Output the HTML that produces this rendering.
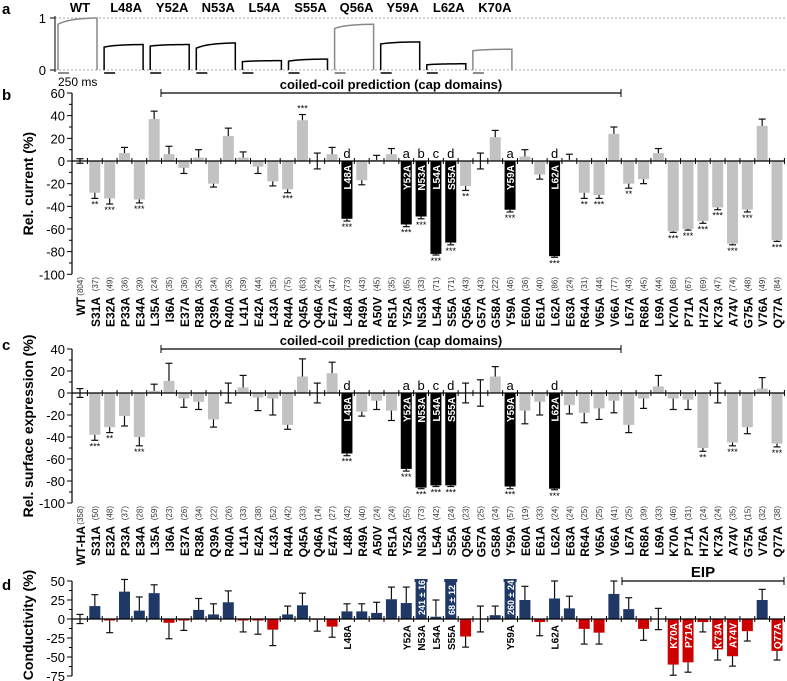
<!DOCTYPE html>
<html><head><meta charset="utf-8">
<style>
html,body{margin:0;padding:0;background:#fff;}
svg{display:block;font-family:"Liberation Sans",Arial,sans-serif;}
</style></head>
<body>
<svg id="fig" width="787" height="681" viewBox="0 0 787 681" xmlns="http://www.w3.org/2000/svg">
<g id="root"></g>
</svg>
<script>
// ---------- DATA ----------
const namesB = ["WT","S31A","E32A","P33A","E34A","L35A","I36A","E37A","R38A","Q39A","R40A","L41A","E42A","L43A","R44A","Q45A","Q46A","E47A","L48A","R49A","A50V","R51A","Y52A","N53A","L54A","S55A","Q56A","G57A","G58A","Y59A","E60A","E61A","L62A","E63A","R64A","V65A","V66A","L67A","R68A","L69A","K70A","P71A","H72A","K73A","A74V","G75A","V76A","Q77A"];
const namesC = ["WT-HA"].concat(namesB.slice(1));
const countsB = [804,37,49,36,39,24,35,36,35,34,35,39,44,35,75,63,24,47,73,43,45,35,65,33,71,71,43,43,22,46,36,40,86,24,31,44,77,43,45,44,68,67,69,47,74,48,49,84];
const countsC = [358,50,48,37,28,59,23,26,34,22,26,33,38,52,42,33,14,27,42,40,24,24,55,73,42,24,23,25,24,57,19,33,24,24,25,25,41,25,39,33,46,31,24,24,35,15,32,38];
const currentVals = [0,-28,-33,7,-34,37,6,-6,3,-20,22,3,-5,-18,-25,36,0,6,-51,-17,1,6,-56,-49,-82,-72,-22,0,21,-43,4,-12,-84,1,-28,-30,24,-20,-16,7,-62,-60,-53,-41,-73,-43,31,-70];
const currentErrs = [2,5,5,5,3,7,7,5,7,3,7,5,6,4,3,5,7,6,2,4,4,5,2,2,1,2,4,7,6,2,6,4,1,5,5,3,6,4,4,4,1,1,2,2,1,2,6,1];
const currentSig = ["","**","***","","***","","","","","","","","","","***","***","","","***","","","","***","***","***","***","**","","","***","","","***","","**","***","","**","","","***","***","***","***","***","***","","***"];
const surfaceVals = [0,-38,-31,-21,-40,2,11,-5,-8,-24,0,5,-4,-5,-29,15,0,18,-55,-17,-7,-16,-69,-86,-84,-84,0,0,15,-85,-16,-8,-87,-11,-18,-14,-7,-29,-5,6,-5,-6,-50,0,-45,-31,4,-46];
const surfaceErrs = [4,5,5,9,8,6,16,8,7,7,9,11,12,15,4,16,9,10,2,4,8,9,2,1,1,1,9,12,9,2,12,12,1,8,9,10,11,7,9,10,10,9,3,9,3,6,10,3];
const surfaceSig = ["","***","**","","***","","","","","","","","","","","","","","***","","","","***","***","***","***","","","","***","","","***","","","","","","","","","","**","","***","","","***"];
const condVals = [0,17,-2,36,11,34,-5,-2,12,6,22,-2,-2,-14,6,18,-1,-10,10,10,8,26,21,241,3,68,-23,0,5,260,25,-4,27,14,-13,-18,33,13,-13,0,-60,-57,-4,-40,-49,-16,25,-42];
const condErrs = [6,15,16,16,18,11,21,13,15,14,15,15,18,21,11,16,15,14,10,10,14,16,21,16,22,12,14,17,12,24,18,18,23,16,20,15,17,15,15,14,14,13,13,14,13,13,14,12];
const condBig = ["","","","","","","","","","","","","","","","","","","","","","","","241 ± 16","","68 ± 12","","","","260 ± 24","","","","","","","","","","","","","","","","","",""];
const mutants = ["L48A","Y52A","N53A","L54A","S55A","Y59A","L62A"];
const mutantLetters = {"L48A":"d","Y52A":"a","N53A":"b","L54A":"c","S55A":"d","Y59A":"a","L62A":"d"};
const redLabelled = ["K70A","P71A","K73A","A74V","Q77A"];
// panel a traces
const traceNames = ["WT","L48A","Y52A","N53A","L54A","S55A","Q56A","Y59A","L62A","K70A"];
const traceStart = [0.88,0.44,0.46,0.42,0.16,0.17,0.80,0.50,0.10,0.37];
const traceEnd = [1.0,0.49,0.49,0.52,0.18,0.21,0.88,0.54,0.12,0.40];
const traceGray = [true,false,false,false,false,false,true,false,false,true];

// ---------- HELPERS ----------
const NS="http://www.w3.org/2000/svg";
const root=document.getElementById('root');
function mk(tag,attrs,parent,txt){const e=document.createElementNS(NS,tag);for(const k in attrs)e.setAttribute(k,attrs[k]);if(txt!==undefined)e.textContent=txt;(parent||root).appendChild(e);return e;}
const X=i=>80+i*14.83;
const BW=11;

// ---------- PANEL A ----------
const ga=mk('g',{});


const t=mk('text',{x:2,y:14,'font-size':15,'font-weight':'bold'},ga,'a');


const ya1=18, ya0=70;
const YA=v=>ya0-(ya0-ya1)*v;
[1,0].forEach(v=>{
  const l=mk('line',{x1:55,x2:787,y1:YA(v),y2:YA(v),stroke:'#aaa','stroke-dasharray':'2,2','stroke-width':1},ga);
  
  
  const tk=mk('line',{x1:50,x2:55,y1:YA(v),y2:YA(v),stroke:'#000'},ga);
  
  
  const tl=mk('text',{x:46,y:YA(v)+5,'font-size':13,'text-anchor':'end'},ga,String(v));
  
  
});
const axA=mk('line',{x1:55,x2:55,y1:ya1-2,y2:ya0+2,stroke:'#000'},ga);


traceNames.forEach((n,i)=>{
  const cx=80+i*46.1;
  const title=mk('text',{x:cx,y:12,'font-size':13,'font-weight':'bold','text-anchor':'middle'},ga,n);
  
  
  const x0=cx-22,x1=cx+17;
  let d=`M${x0},${YA(0)} L${x0},${YA(traceStart[i])}`;
  for(let k=1;k<=20;k++){const f=k/20;const v=traceStart[i]+(traceEnd[i]-traceStart[i])*(1-Math.exp(-3*f))/(1-Math.exp(-3));d+=` L${x0+(x1-x0)*f},${YA(v)}`;}
  d+=` L${x1},${YA(0)}`;
  const p=mk('path',{d:d,fill:'none',stroke:traceGray[i]?'#888':'#000','stroke-width':1.5},ga);
  
  
  const sb=mk('line',{x1:x0,x2:x0+11,y1:73,y2:73,stroke:traceGray[i]?'#666':'#000','stroke-width':1.5},ga);
  
  
});
const ms=mk('text',{x:58,y:86,'font-size':12},ga,'250 ms');



// ---------- BAR PANELS ----------
function panel(cfg){
  const g=mk('g',{});
  
  
  const Y=v=>cfg.y0-v*cfg.k;
  const L=mk('text',{x:2,y:cfg.letterY,'font-size':15,'font-weight':'bold'},g,cfg.letter);
  
  
  const ya=mk('line',{x1:72,x2:72,y1:Y(cfg.max),y2:Y(cfg.min),stroke:'#000','stroke-width':1.2},g);
  
  
  for(let v=cfg.min;v<=cfg.max;v+=cfg.minor){
    const major=((v-cfg.min)%cfg.major)===0;
    const tk=mk('line',{x1:major?67:69,x2:72,y1:Y(v),y2:Y(v),stroke:'#000'},g);
    
    
    if(major){
      const tl=mk('text',{x:65,y:Y(v)+5,'font-size':13,'text-anchor':'end'},g,String(v));
      
      
    }
  }
  const mid=cfg.titleMid!==undefined?cfg.titleMid:(Y(cfg.max)+Y(cfg.min))/2;
  const yt=mk('text',{x:33,y:mid,'font-size':14,'font-weight':'bold','text-anchor':'middle',transform:`rotate(-90 33 ${mid})`},g,cfg.ytitle);
  
  
  cfg.vals.forEach((v,i)=>{
    const n=cfg.names[i];
    const cx=X(i);
    const isMut=cfg.mutHighlight && mutants.includes(n);
    let color=cfg.colorFn(v,n);
    let vv=v;
    const big=cfg.big&&cfg.big[i];
    if(big) vv=cfg.max;
    const y1=Y(Math.max(vv,0)),y2=Y(Math.min(vv,0));
    const b=mk('rect',{x:cx-BW/2,y:y1,width:BW,height:Math.max(y2-y1,0.5),fill:color},g);
    
    
    if(big){
      const cap=mk('rect',{x:cx-BW/2-1,y:y1-2,width:BW+2,height:3,fill:color},g);
      
      
      const bt=mk('text',{x:cx+4,y:cfg.y0-4,'font-size':9,'font-weight':'bold',fill:'#fff',transform:`rotate(-90 ${cx+4} ${cfg.y0-4})`},g,big);
      
      
    } else {
      const e=cfg.errs[i];
      const dir=v>=0?1:-1;
      const ytop=Y(v+(v===0?e:dir*e));
      const ybase=v===0?Y(-e):Y(v);
      const el=mk('line',{x1:cx,x2:cx,y1:ybase,y2:ytop,stroke:'#111','stroke-width':1.2},g);
      
      
      const c1=mk('line',{x1:cx-3.5,x2:cx+3.5,y1:ytop,y2:ytop,stroke:'#111','stroke-width':1.2},g);
      
      
      if(v===0){
        const c2=mk('line',{x1:cx-3.5,x2:cx+3.5,y1:ybase,y2:ybase,stroke:'#111','stroke-width':1.2},g);
        
        
      }
      if(cfg.sig&&cfg.sig[i]){
        const sy=v<0?ytop+9:ytop-3;
        const s=mk('text',{x:cx,y:sy,'font-size':9,'text-anchor':'middle'},g,cfg.sig[i]);
        
        
      }
    }
    if(isMut){
      const lt=mk('text',{x:cx+4,y:cfg.y0+4,'font-size':10,'font-weight':'bold',fill:'#fff','text-anchor':'end',transform:`rotate(-90 ${cx+4} ${cfg.y0+4})`},g,n);
      
      
      const ml=mk('text',{x:cx,y:cfg.y0-3,'font-size':13,'text-anchor':'middle'},g,mutantLetters[n]);
      
      
    }
    if(cfg.redInside && redLabelled.includes(n)){
      const lt=mk('text',{x:cx+4,y:cfg.y0+4,'font-size':10,'font-weight':'bold',fill:'#fff','text-anchor':'end',transform:`rotate(-90 ${cx+4} ${cfg.y0+4})`},g,n);
      
      
    }
    if(cfg.belowLabels && mutants.includes(n)){
      const bl=mk('text',{x:cx+4,y:cfg.y0+6,'font-size':10,'font-weight':'bold','text-anchor':'end',transform:`rotate(-90 ${cx+4} ${cfg.y0+6})`},g,n);
      
      
    }
  });
  const xa=mk('line',{x1:72,x2:785,y1:cfg.y0,y2:cfg.y0,stroke:'#000','stroke-width':1.3},g);
  
  
  for(let i=0;i<cfg.vals.length;i++){
    const tx=X(i)+7.4;
    const tk=mk('line',{x1:tx,x2:tx,y1:cfg.y0-3,y2:cfg.y0+3,stroke:'#000'},g);
    
    
  }
  if(cfg.labelTop){
    cfg.names.forEach((n,i)=>{
      const cx=X(i)+4;
      const ct=mk('text',{x:cx-1,y:cfg.labelTop,'font-size':8,'text-anchor':'end',fill:'#333',transform:`rotate(-90 ${cx-1} ${cfg.labelTop})`},g,'('+cfg.counts[i]+')');
      
      
      const nt=mk('text',{x:cx+1,y:cfg.nameTop,'font-size':12,'font-weight':'bold','text-anchor':'end',transform:`rotate(-90 ${cx+1} ${cfg.nameTop})`},g,n);
      
      
    });
  }
  if(cfg.bracket){
    const br=cfg.bracket;
    const bl=mk('line',{x1:br.x1,x2:br.x2,y1:br.y,y2:br.y,stroke:'#000','stroke-width':1.2},g);
    
    
    [br.x1,br.x2].forEach(x=>{const e=mk('line',{x1:x,x2:x,y1:br.y-4,y2:br.y+4,stroke:'#000'},g);});
    const bt=mk('text',{x:(br.x1+br.x2)/2,y:br.y-4,'font-size':br.fs,'font-weight':'bold','text-anchor':'middle'},g,br.text);
    
    
  }
}
const gray='#c2c2c2';
panel({name:'panel-b-current',letter:'b',letterY:100,y0:161,k:1.133,min:-100,max:60,major:20,minor:10,
  ytitle:'Rel. current (%)',names:namesB,counts:countsB,vals:currentVals,errs:currentErrs,sig:currentSig,
  colorFn:(v,n)=>mutants.includes(n)?'#000':gray,mutHighlight:true,labelTop:277,nameTop:297,
  bracket:{x1:161,x2:621,y:93,text:'coiled-coil prediction (cap domains)',fs:13}});
panel({name:'panel-c-surface',letter:'c',letterY:350,y0:393,k:1.1,min:-100,max:40,major:20,minor:10,
  ytitle:'Rel. surface expression (%)',names:namesC,counts:countsC,vals:surfaceVals,errs:surfaceErrs,sig:surfaceSig,
  colorFn:(v,n)=>mutants.includes(n)?'#000':gray,mutHighlight:true,labelTop:506,nameTop:526,
  bracket:{x1:161,x2:621,y:349,text:'coiled-coil prediction (cap domains)',fs:13}});
panel({name:'panel-d-conductivity',letter:'d',letterY:590,y0:619,k:0.76,min:-75,max:50,major:25,minor:12.5,titleMid:625,
  ytitle:'Conductivity (%)',names:namesC,vals:condVals,errs:condErrs,big:condBig,
  colorFn:(v)=>v>=0?'#1f3866':'#cc0000',redInside:true,belowLabels:true,
  bracket:{x1:622,x2:784,y:581,text:'EIP',fs:15}});
</script>
</body></html>
